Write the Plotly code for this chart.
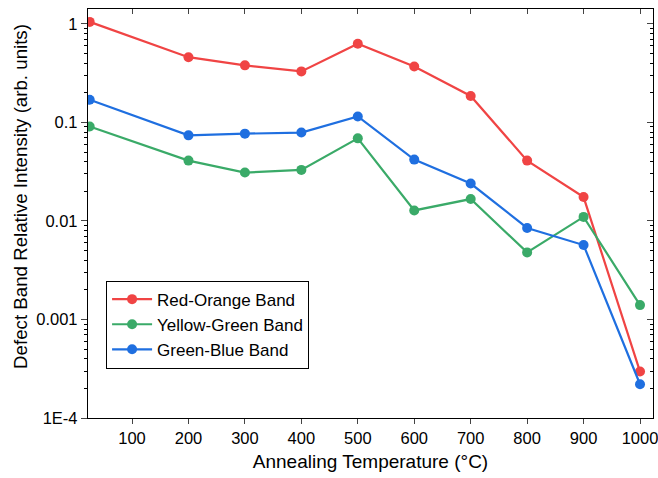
import plotly.graph_objects as go

temps = [25, 200, 300, 400, 500, 600, 700, 800, 900, 1000]
red_orange = [1.05, 0.46, 0.38, 0.33, 0.63, 0.37, 0.186, 0.041, 0.0175, 0.000296]
yellow_green = [0.091, 0.041, 0.031, 0.033, 0.069, 0.0128, 0.0167, 0.0048, 0.011, 0.0014]
green_blue = [0.17, 0.074, 0.077, 0.079, 0.115, 0.042, 0.024, 0.0085, 0.0057, 0.00022]

series_names = ["Red-Orange Band", "Yellow-Green Band", "Green-Blue Band"]
series_colors = ["#F04444", "#3AAA68", "#1F6FE0"]

x_ticks = [100, 200, 300, 400, 500, 600, 700, 800, 900, 1000]
y_tickvals = [1, 0.1, 0.01, 0.001, 0.0001]
y_ticktext = ["1", "0.1", "0.01", "0.001", "1E-4"]

x_title = "Annealing Temperature (°C)"
y_title = "Defect Band Relative Intensity (arb. units)"

x_range = [22, 1023]
y_range = [-4, 0.152]

minor_vals = [m * 10 ** e for e in range(-4, 1) for m in range(2, 10)]

fig = go.Figure()
for name, vals, col in zip(series_names, [red_orange, yellow_green, green_blue], series_colors):
    fig.add_trace(go.Scatter(
        x=temps, y=vals, name=name, mode="lines+markers",
        line=dict(color=col, width=2.2),
        marker=dict(color=col, size=10),
    ))

# invisible trace to anchor top/right axes
fig.add_trace(go.Scatter(x=[None], y=[None], xaxis="x2", yaxis="y2", showlegend=False, hoverinfo="skip"))

font_family = "Liberation Sans, Arial, Helvetica, sans-serif"

fig.update_layout(
    width=658, height=478,
    margin=dict(l=88, r=5, t=9, b=60, autoexpand=False),
    paper_bgcolor="white", plot_bgcolor="white",
    font=dict(family=font_family, size=16.5, color="black"),
    showlegend=True,
    legend=dict(
        x=0.032, y=0.336, xanchor="left", yanchor="top",
        bgcolor="white", bordercolor="black", borderwidth=1,
        font=dict(size=17, family=font_family),
        itemwidth=40, tracegroupgap=0,
    ),
    xaxis=dict(
        range=x_range, tickvals=x_ticks, ticks="outside", ticklen=5, tickwidth=1,
        showline=True, linecolor="black", linewidth=1.4, showgrid=False, zeroline=False,
        automargin=False, ticklabeloverflow="allow",
        title=dict(text=x_title, font=dict(size=19), standoff=8),
        tickfont=dict(size=16.5),
    ),
    yaxis=dict(
        type="log", range=y_range, tickvals=y_tickvals, ticktext=y_ticktext,
        ticks="outside", ticklen=6, tickwidth=1,
        minor=dict(tickvals=minor_vals, ticks="outside", ticklen=3, tickcolor="black", showgrid=False),
        showline=True, linecolor="black", linewidth=1.4, showgrid=False, zeroline=False,
        automargin=False, ticklabeloverflow="allow",
        tickfont=dict(size=16.5),
    ),
    xaxis2=dict(
        overlaying="x", side="top", range=x_range, tickvals=x_ticks, ticks="inside",
        ticklen=5, showticklabels=False, showline=True, linecolor="black", linewidth=1.4,
        showgrid=False, zeroline=False, automargin=False,
    ),
    yaxis2=dict(
        overlaying="y", side="right", type="log", range=y_range, tickvals=y_tickvals,
        ticks="inside", ticklen=6, showticklabels=False,
        minor=dict(tickvals=minor_vals, ticks="inside", ticklen=3, tickcolor="black", showgrid=False),
        showline=True, linecolor="black", linewidth=1.4, showgrid=False, zeroline=False,
        automargin=False,
    ),
    annotations=[dict(
        text=y_title, textangle=-90, xref="paper", yref="paper",
        x=-0.1186, y=0.543, xanchor="center", yanchor="middle",
        showarrow=False, font=dict(size=18.7),
    )],
)

fig.write_html("out.html", config={"displayModeBar": False},
               post_script="document.body.style.margin='0';")
